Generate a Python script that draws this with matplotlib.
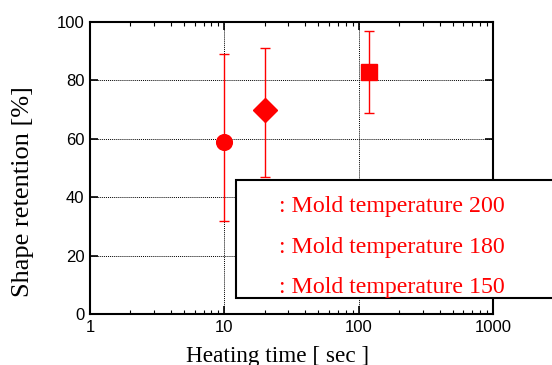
import matplotlib
matplotlib.use("Agg")
import matplotlib.pyplot as plt
from matplotlib.patches import Rectangle
from matplotlib.ticker import LogLocator, NullFormatter

heating_time = [10, 20, 120]
retention = [59, 70, 83]
err_low = [32, 47, 69]
err_high = [89, 91, 97]
markers = ["o", "D", "s"]
marker_sizes = [11.3, 12.5, 11.3]
legend_labels = [": Mold temperature 200", ": Mold temperature 180", ": Mold temperature 150"]
xticks = [1, 10, 100, 1000]
xtick_labels = ["1", "10", "100", "1000"]
yticks = [0, 20, 40, 60, 80, 100]

fig = plt.figure(figsize=(5.52, 3.65), dpi=100)
ax = fig.add_axes([90/552, 1-314/365, (493-90)/552, (314-22)/365])

for x, y, lo, hi, m, ms in zip(heating_time, retention, err_low, err_high, markers, marker_sizes):
    ax.errorbar([x], [y], yerr=[[y-lo], [hi-y]], fmt=m, color="red", ecolor="red",
                elinewidth=1.0, capsize=3.5, capthick=1.0, markersize=ms,
                markeredgecolor="red", zorder=3)

ax.set_xscale("log")
ax.set_xlim(1, 1000)
ax.set_ylim(0, 100)
ax.set_xticks(xticks)
ax.set_xticklabels(xtick_labels)
ax.xaxis.set_minor_locator(LogLocator(base=10, subs=range(2, 10)))
ax.xaxis.set_minor_formatter(NullFormatter())
ax.set_yticks(yticks)
ax.grid(True, which="major", linestyle=(0, (1, 1)), color="black", linewidth=0.7)
ax.tick_params(which="both", direction="in", top=True, right=True)
ax.tick_params(which="major", length=6, width=1.2, labelsize=12, pad=4)
ax.tick_params(which="minor", length=3, width=0.8)
for lbl in ax.get_xticklabels() + ax.get_yticklabels():
    lbl.set_family("Liberation Sans")
for s in ax.spines.values():
    s.set_linewidth(1.5)

fig.text(278/552, 1-362/365, "Heating time [ sec ]", family="Liberation Serif",
         fontsize=16.7, ha="center", va="baseline")
fig.text(23/552, 1-192/365, "Shape retention [%]", family="Liberation Serif",
         fontsize=19, ha="center", va="center", rotation=90)

# legend-like box
box = Rectangle((236/552, 1-298/365), 330/552, 118/365, transform=fig.transFigure,
                facecolor="white", edgecolor="black", linewidth=1.5, zorder=5, clip_on=False)
fig.add_artist(box)
for i, t in enumerate(legend_labels):
    fig.text(279/552, 1-(212+40.5*i)/365, t, color="red", family="Liberation Serif",
             fontsize=17.2, va="baseline", ha="left", zorder=6)

fig.savefig("out.png", dpi=100)
